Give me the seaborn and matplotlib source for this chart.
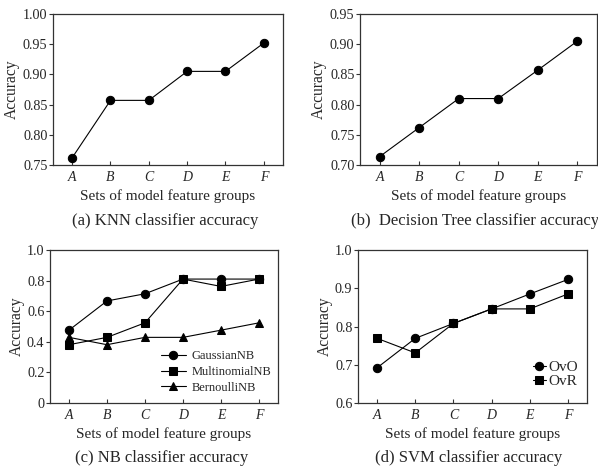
import matplotlib
matplotlib.use("Agg")
import matplotlib.pyplot as plt
import seaborn as sns
import pandas as pd
from matplotlib.legend_handler import HandlerLine2D

sns.set_theme(style="ticks")
plt.rcParams['font.family'] = ['Liberation Serif', 'DejaVu Serif']

categories = ["A", "B", "C", "D", "E", "F"]

knn_acc = [0.762, 0.857, 0.857, 0.905, 0.905, 0.952]
dt_acc = [0.714, 0.762, 0.810, 0.810, 0.857, 0.905]

gaussian_nb = [0.476, 0.667, 0.714, 0.810, 0.810, 0.810]
multinomial_nb = [0.381, 0.429, 0.524, 0.810, 0.762, 0.810]
bernoulli_nb = [0.429, 0.381, 0.429, 0.429, 0.476, 0.524]

svm_ovo = [0.692, 0.769, 0.808, 0.846, 0.885, 0.923]
svm_ovr = [0.769, 0.731, 0.808, 0.846, 0.846, 0.885]

knn_yticks = [0.75, 0.80, 0.85, 0.90, 0.95, 1.00]
dt_yticks = [0.70, 0.75, 0.80, 0.85, 0.90, 0.95]
nb_yticks = [0, 0.2, 0.4, 0.6, 0.8, 1.0]
nb_yticklabels = ["0", "0.2", "0.4", "0.6", "0.8", "1.0"]
svm_yticks = [0.6, 0.7, 0.8, 0.9, 1.0]

xlabel = "Sets of model feature groups"
ylabel = "Accuracy"
captions = ["(a) KNN classifier accuracy", "(b)  Decision Tree classifier accuracy",
            "(c) NB classifier accuracy", "(d) SVM classifier accuracy"]

W, H = 598, 468
fig = plt.figure(figsize=(W / 100, H / 100), dpi=100)

def add_ax(l, t, r, b):
    return fig.add_axes([l / W, 1 - b / H, (r - l) / W, (b - t) / H])

axes = [add_ax(53, 14, 283, 165), add_ax(360, 14, 597, 165),
        add_ax(50, 250, 278, 403), add_ax(358, 250, 587, 403)]

spine_color = "#333333"

def style(ax, yticks, ylabels=None, fmt="{:.2f}", ylabel_x=-0.14):
    ax.set_xlim(-0.5, 5.5)
    ax.set_ylim(yticks[0], yticks[-1])
    ax.set_yticks(yticks)
    if ylabels is None:
        ylabels = [fmt.format(v) for v in yticks]
    ax.set_yticklabels(ylabels, fontsize=10.2)
    ax.set_xticks(range(len(categories)))
    ax.set_xticklabels(categories, fontsize=10, style="italic")
    ax.tick_params(axis="x", direction="in", length=3, width=0.8, color=spine_color, pad=4)
    ax.tick_params(axis="y", direction="out", length=3, width=0.8, color=spine_color, pad=1)
    for s in ax.spines.values():
        s.set_visible(True)
        s.set_color(spine_color)
        s.set_linewidth(0.9)
    ax.set_xlabel(xlabel, fontsize=11, labelpad=4)
    ax.set_ylabel(ylabel, fontsize=11.2)
    ax.yaxis.set_label_coords(ylabel_x, 0.5)
    ax.grid(False)

def draw(ax, values, marker, label=None, ms=6):
    df = pd.DataFrame({"x": range(len(categories)), "y": values})
    sns.lineplot(data=df, x="x", y="y", ax=ax, color="black", linewidth=0.8,
                 marker=marker, markersize=ms, markeredgecolor="black",
                 markerfacecolor="black", label=label, legend=False)

class RightMarkerHandler(HandlerLine2D):
    def get_xdata(self, legend, xdescent, ydescent, width, height, fontsize):
        xdata = [-xdescent, -xdescent + width]
        return xdata, [-xdescent + width]

draw(axes[0], knn_acc, "o")
style(axes[0], knn_yticks, ylabel_x=-0.143)
draw(axes[1], dt_acc, "o")
style(axes[1], dt_yticks, ylabel_x=-0.139)

draw(axes[2], gaussian_nb, "o", "GaussianNB")
draw(axes[2], multinomial_nb, "s", "MultinomialNB")
draw(axes[2], bernoulli_nb, "^", "BernoulliNB")
style(axes[2], nb_yticks, nb_yticklabels, ylabel_x=-0.110)
axes[2].legend(loc="lower right", frameon=False, fontsize=9, handlelength=2.0,
               handletextpad=0.5, borderaxespad=0.1, labelspacing=0.3,
               bbox_to_anchor=(1.0, 0.02))

draw(axes[3], svm_ovo, "o", "OvO")
draw(axes[3], svm_ovr, "s", "OvR")
style(axes[3], svm_yticks, fmt="{:.1f}", ylabel_x=-0.109)
h, l = axes[3].get_legend_handles_labels()
axes[3].legend(h, l, loc="lower right", frameon=False, fontsize=11, handlelength=0.9,
               handletextpad=0.15, borderaxespad=0.1, labelspacing=0.05,
               bbox_to_anchor=(0.995, 0.045),
               handler_map={type(h[0]): RightMarkerHandler()})

cap_pos = [(165, 221), (475, 221), (162, 458), (469, 458)]
for (x, y), c in zip(cap_pos, captions):
    fig.text(x / W, 1 - y / H, c, ha="center", va="center", fontsize=12)

fig.savefig("out.png", dpi=100)
